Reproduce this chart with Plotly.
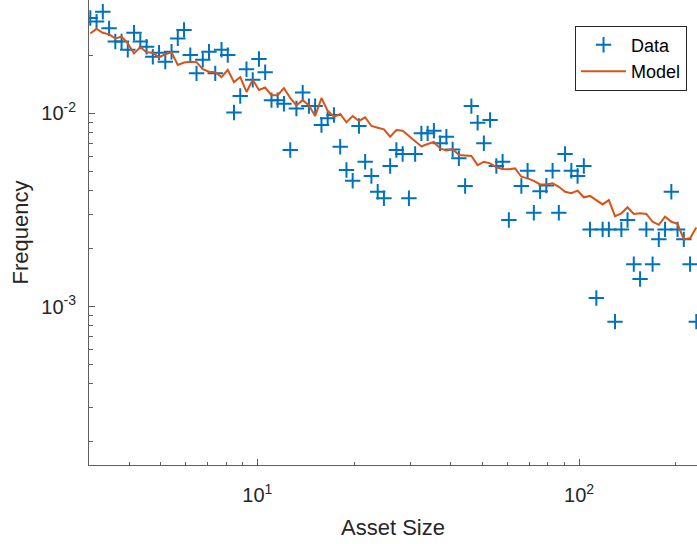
import plotly.graph_objects as go

# Log-spaced asset-size bins
asset_size = [
    3.027, 3.165, 3.310, 3.462, 3.620, 3.785, 3.958, 4.139, 4.329, 4.527,
    4.734, 4.950, 5.176, 5.413, 5.660, 5.919, 6.190, 6.473, 6.769, 7.078,
    7.402, 7.740, 8.094, 8.464, 8.851, 9.256, 9.679, 10.12, 10.58, 11.07,
    11.57, 12.10, 12.66, 13.23, 13.84, 14.47, 15.13, 15.83, 16.55, 17.31,
    18.10, 18.93, 19.79, 20.70, 21.64, 22.63, 23.67, 24.75, 25.88, 27.06,
    28.30, 29.60, 30.95, 32.36, 33.84, 35.39, 37.01, 38.70, 40.47, 42.32,
    44.26, 46.28, 48.40, 50.61, 52.92, 55.34, 57.87, 60.52, 63.29, 66.18,
    69.21, 72.37, 75.68, 79.14, 82.76, 86.54, 90.50, 94.64, 98.97, 103.5,
    108.2, 113.2, 118.4, 123.8, 129.4, 135.4, 141.5, 148.0, 154.8, 161.9,
    169.3, 177.0, 185.1, 193.6, 202.4, 211.7, 221.4, 231.5,
]

# Observed frequency per bin (None = empty bin)
data_freq = [
    0.0311, 0.0298, 0.0335, 0.0275, 0.0235, 0.0235, 0.0213, 0.0261, 0.0235, 0.0221,
    0.0196, 0.0206, 0.0185, 0.0208, 0.0244, 0.0270, 0.0200, 0.0161, 0.0189, 0.0208,
    0.0161, 0.0213, 0.0200, 0.0101, 0.0123, 0.0169, 0.0149, 0.0191, 0.0163, 0.0117,
    0.0117, 0.0112, 0.00646, 0.0106, 0.0128, 0.0109, 0.0109, 0.00870, 0.00942, 0.00980,
    0.00672, 0.00509, 0.00448, 0.00860, 0.00562, 0.00474, 0.00393, 0.00364, 0.00534, 0.00646,
    0.00616, 0.00364, 0.00616, 0.00788, 0.00788, 0.00813, 0.00700, 0.00757, 0.00651, 0.00585,
    0.00421, 0.0109, 0.00894, 0.00700, 0.00924, 0.00534, 0.00562, 0.00281, None, 0.00421,
    0.00505, 0.00306, 0.00395, 0.00423, 0.00505, 0.00306, 0.00616, 0.00505, 0.00474, 0.00534,
    0.00251, 0.00111, 0.00251, 0.00251, 0.000837, 0.00251, 0.00281, 0.00166, 0.00139, 0.00251,
    0.00166, 0.00223, 0.00251, 0.00393, 0.00251, 0.00223, 0.00166, 0.000837,
]

# Model frequency per bin
model_freq = [
    0.0259, 0.0273, 0.0261, 0.0256, 0.0244, 0.0249, 0.0230, 0.0204, 0.0220, 0.0207,
    0.0206, 0.0195, 0.0202, 0.0207, 0.0178, 0.0183, 0.0185, 0.0184, 0.0169, 0.0164,
    0.0163, 0.0154, 0.0168, 0.0145, 0.0154, 0.0129, 0.0149, 0.0132, 0.0136, 0.0124,
    0.0124, 0.0135, 0.0120, 0.0110, 0.0117, 0.0110, 0.00968, 0.0120, 0.0103, 0.00960,
    0.00992, 0.00899, 0.00968, 0.00913, 0.00954, 0.00860, 0.00843, 0.00827, 0.00757, 0.00820,
    0.00813, 0.00763, 0.00713, 0.00674, 0.00694, 0.00711, 0.00658, 0.00642, 0.00654, 0.00609,
    0.00605, 0.00602, 0.00540, 0.00562, 0.00551, 0.00526, 0.00515, 0.00514, 0.00519, 0.00470,
    0.00461, 0.00447, 0.00429, 0.00428, 0.00435, 0.00417, 0.00393, 0.00386, 0.00398, 0.00368,
    0.00374, 0.00356, 0.00338, 0.00356, 0.00294, 0.00304, 0.00327, 0.00302, 0.00304, 0.00302,
    0.00275, 0.00265, 0.00292, 0.00275, 0.00268, 0.00223, 0.00226, 0.00257,
]

# Major tick positions and their labels
x_tick_vals = [10, 100]
x_tick_text = ["10<sup>1</sup>", "10<sup>2</sup>"]
y_tick_vals = [0.001, 0.01]
y_tick_text = ["10<sup>-3</sup>", "10<sup>-2</sup>"]

BLUE = "#0072BD"
ORANGE = "#D95319"
AX = "#262626"
LINE = "#5f5f5f"
FONT = "Liberation Sans, Arial, sans-serif"

fig = go.Figure()
fig.add_trace(go.Scatter(
    x=asset_size, y=data_freq, mode="markers", name="Data",
    marker=dict(symbol="cross-thin", size=11, line=dict(color=BLUE, width=2), color=BLUE),
))
fig.add_trace(go.Scatter(
    x=asset_size, y=model_freq, mode="lines", name="Model",
    line=dict(color=ORANGE, width=2),
))

axis_common = dict(
    type="log", showline=True, linecolor=LINE, linewidth=1,
    ticks="inside", ticklen=6, tickcolor=LINE, tickwidth=1,
    tickmode="array", showgrid=False, zeroline=False,
    tickfont=dict(family=FONT, size=20, color=AX),
    minor=dict(ticks="inside", ticklen=3.5, tickcolor=LINE, tickmode="linear",
               dtick="D1", showgrid=False),
    mirror=False,
)

fig.update_layout(
    width=697, height=544, autosize=False,
    margin=dict(l=89, r=0, t=0, b=79),
    paper_bgcolor="white", plot_bgcolor="white",
    font=dict(family=FONT, color=AX),
    xaxis=dict(axis_common, range=[0.4769, 2.3667],
               tickvals=x_tick_vals, ticktext=x_tick_text,
               title=dict(text="Asset Size", font=dict(family=FONT, size=22, color=AX), standoff=14),
               ticklabelstandoff=12),
    yaxis=dict(axis_common, range=[-3.8185, -1.414],
               tickvals=y_tick_vals, ticktext=y_tick_text,
               title=dict(text="Frequency", font=dict(family=FONT, size=22, color=AX), standoff=6),
               ticklabelstandoff=8),
    legend=dict(
        x=0.9836, y=0.945, xanchor="right", yanchor="top",
        bgcolor="white", bordercolor=AX, borderwidth=1,
        font=dict(family=FONT, size=18, color="black"),
        itemwidth=45, tracegroupgap=0,
    ),
    showlegend=True,
)

fig.write_html("out.html")
